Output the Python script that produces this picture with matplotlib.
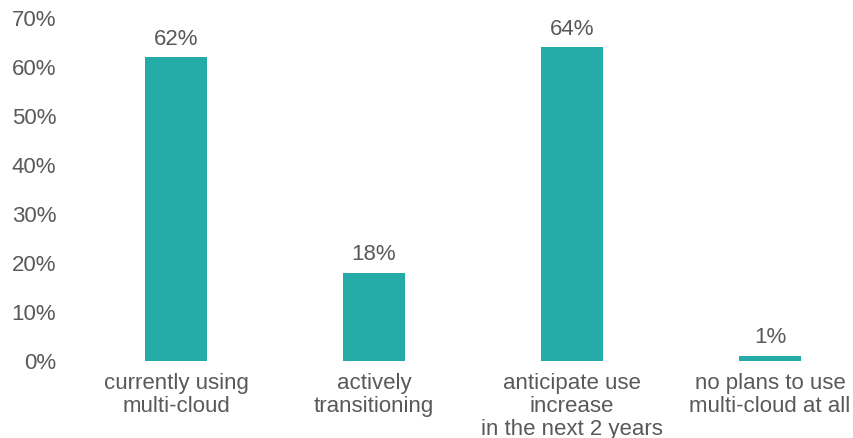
import matplotlib
matplotlib.use("Agg")
import matplotlib.pyplot as plt
from matplotlib.ticker import FuncFormatter

plt.rcParams['font.family'] = ['Liberation Sans', 'DejaVu Sans']

categories = ["currently using\nmulti-cloud", "actively\ntransitioning",
              "anticipate use\nincrease\nin the next 2 years", "no plans to use\nmulti-cloud at all"]
values = [62, 18, 64, 1]
yticks = [0, 10, 20, 30, 40, 50, 60, 70]

bar_color = "#25ABA8"
text_color = "#595959"
fs = 16

fig = plt.figure(figsize=(8.54, 4.38), dpi=100)
ax = fig.add_axes([70 / 854, 77 / 438, (854 - 70) / 854, (361 - 18) / 438])

x = list(range(len(categories)))
bars = ax.bar(x, values, width=0.31, color=bar_color)

for xi, v in zip(x, values):
    ax.annotate(f"{v}%", (xi, v), xytext=(0, 5.5), textcoords="offset points",
                ha="center", va="bottom", fontsize=fs, color=text_color)

ax.set_xlim((70 - 176) / 198, (854 - 176) / 198)
ax.set_ylim(0, 70)
ax.set_yticks(yticks)
ax.yaxis.set_major_formatter(FuncFormatter(lambda v, p: f"{v:.0f}%"))
ax.set_xticks(x)
ax.set_xticklabels(categories, linespacing=1.1)

ax.tick_params(axis="both", length=0, labelsize=fs, colors=text_color)
ax.tick_params(axis="y", pad=10)
ax.tick_params(axis="x", pad=9)
for s in ax.spines.values():
    s.set_visible(False)

fig.savefig("out.png", dpi=100)
